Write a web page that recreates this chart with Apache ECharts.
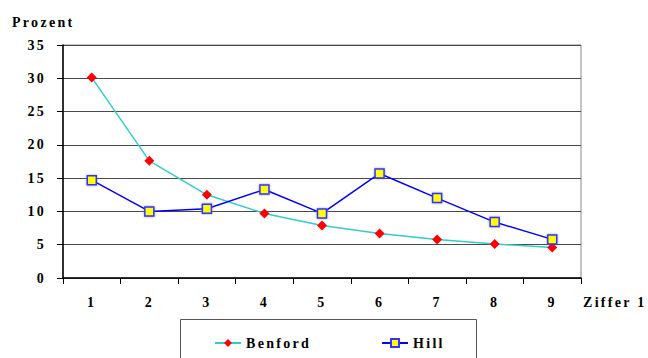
<!DOCTYPE html>
<html>
<head>
<meta charset="utf-8">
<script src="https://cdn.jsdelivr.net/npm/echarts@6/dist/echarts.min.js"></script>
<style>
  html, body { margin: 0; padding: 0; background: #fff; }
  #chart { width: 648px; height: 358px; }
  #chart text { letter-spacing: 2.3px; }
</style>
</head>
<body>
<div id="chart"></div>
<script>
// First-digit frequencies in percent
const digits = ['1', '2', '3', '4', '5', '6', '7', '8', '9'];
const benford = [30.1, 17.6, 12.5, 9.7, 7.9, 6.7, 5.8, 5.1, 4.6];
const hill = [14.7, 10.0, 10.4, 13.3, 9.7, 15.7, 12.0, 8.4, 5.8];
const yTicks = { min: 0, max: 35, interval: 5 };

const font = '"Liberation Serif", "Times New Roman", serif';
const chart = echarts.init(document.getElementById('chart'), null, { renderer: 'svg' });

chart.setOption({
  animation: false,
  backgroundColor: '#ffffff',
  textStyle: { fontFamily: font },
  grid: {
    left: 63, right: 67, top: 45, bottom: 80,
    show: true, borderColor: '#888888', borderWidth: 1
  },
  graphic: [
    {
      type: 'text', left: 12, top: 15,
      style: { text: 'Prozent', font: 'bold 14px ' + font, fill: '#000' }
    },
    {
      type: 'text', left: 583, top: 295,
      style: { text: 'Ziffer 1', font: 'bold 14px ' + font, fill: '#000' }
    },
    {
      type: 'rect',
      shape: { x: 180.5, y: 319.5, width: 296, height: 60 },
      style: { fill: 'none', stroke: '#555555', lineWidth: 1 }
    }
  ],
  legend: {
    left: 209, top: 331,
    itemWidth: 26, itemHeight: 10, itemGap: 86,
    textStyle: { fontFamily: font, fontWeight: 'bold', fontSize: 14, color: '#000' },
    data: ['Benford', 'Hill']
  },
  xAxis: {
    type: 'category',
    data: digits,
    boundaryGap: true,
    axisLine: { lineStyle: { color: '#000', width: 1.5 } },
    axisTick: { show: true, alignWithLabel: false, length: 6, lineStyle: { color: '#000' } },
    axisLabel: { margin: 17, fontFamily: font, fontWeight: 'bold', fontSize: 14, color: '#000' },
    splitLine: { show: false }
  },
  yAxis: {
    type: 'value',
    min: yTicks.min, max: yTicks.max, interval: yTicks.interval,
    axisLine: { show: true, lineStyle: { color: '#000', width: 1.5 } },
    axisTick: { show: true, length: 6, lineStyle: { color: '#000' } },
    axisLabel: { margin: 17, fontFamily: font, fontWeight: 'bold', fontSize: 14, color: '#000' },
    splitLine: { show: true, lineStyle: { color: '#4a4a4a', width: 1 } }
  },
  series: [
    {
      name: 'Benford',
      type: 'line',
      data: benford,
      symbol: 'diamond',
      symbolSize: 10,
      lineStyle: { color: '#33cccc', width: 1.5 },
      itemStyle: { color: '#ff0000', borderColor: '#ff0000', borderWidth: 0 },
      z: 3
    },
    {
      name: 'Hill',
      type: 'line',
      data: hill,
      symbol: 'rect',
      symbolSize: 9,
      lineStyle: { color: '#0000ff', width: 1.5 },
      itemStyle: {
        color: '#ffff00', borderColor: '#3333ff', borderWidth: 1.5,
        shadowColor: 'rgba(90,90,255,0.6)', shadowBlur: 2
      },
      z: 4
    }
  ]
});
</script>
</body>
</html>
